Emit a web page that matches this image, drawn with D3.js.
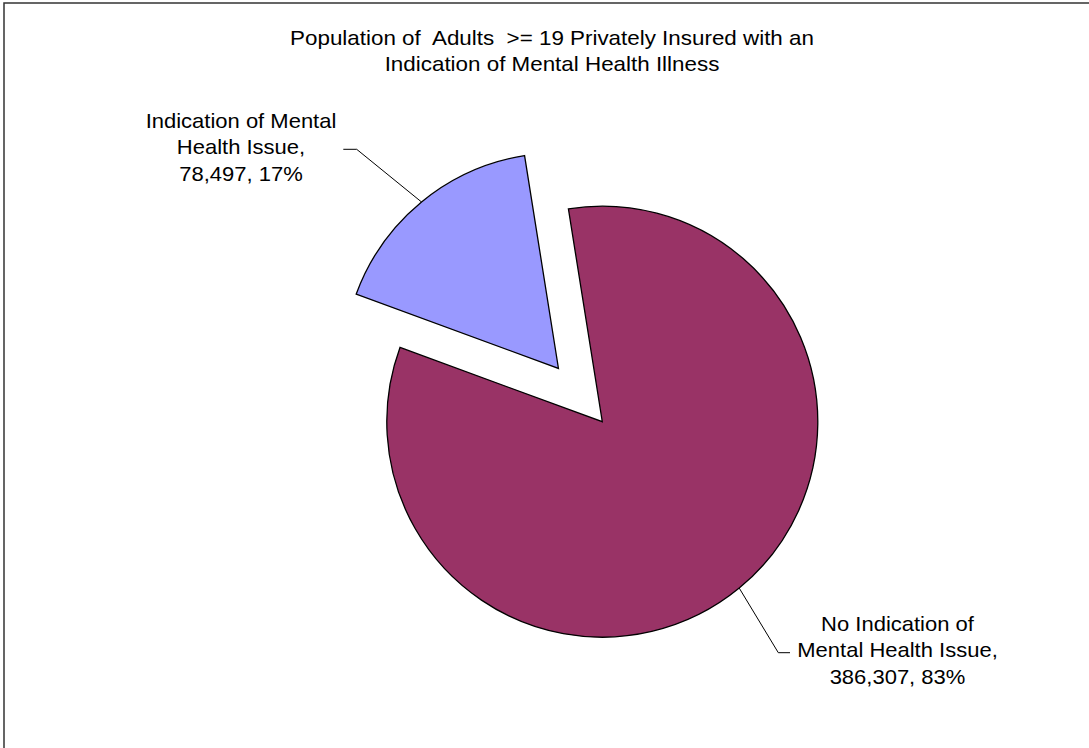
<!DOCTYPE html>
<html>
<head>
<meta charset="utf-8">
<script src="https://cdn.jsdelivr.net/npm/d3@7"></script>
<style>
  html, body { margin: 0; padding: 0; background: #fff; }
  svg { display: block; }
  text { font-family: "Liberation Sans", Arial, sans-serif; fill: #000; white-space: pre; }
</style>
</head>
<body>
<svg id="chart" width="1089" height="748"></svg>
<script>
// ---- data ----
const titleLines = ["Population of  Adults  >= 19 Privately Insured with an", "Indication of Mental Health Illness"];
const categories = ["No Indication of Mental Health Issue", "Indication of Mental Health Issue"];
const values = [386307, 78497];
const colors = ["#993366", "#9999FF"];
const labelLines = [
  ["No Indication of", "Mental Health Issue,"],
  ["Indication of Mental", "Health Issue,"]
];
const exploded = [false, true];

// ---- layout ----
const W = 1089, H = 748;
const cx = 602.3, cy = 421.7, R = 215.5;
const explodeDist = 69;
const startDeg = -9.05;
const fontSize = 20;
const lineH = 26.5;
const textScaleX = 1.1;

const svg = d3.select("#chart");

// border
svg.append("rect")
  .attr("x", 4).attr("y", 3).attr("width", W + 10).attr("height", H + 10)
  .attr("fill", "none").attr("stroke", "#333").attr("stroke-width", 1.5);

// title
const title = svg.append("text").attr("text-anchor", "middle").style("font-size", fontSize + "px")
  .attr("xml:space", "preserve")
  .attr("transform", `translate(552,45) scale(${textScaleX + 0.02},1)`);
titleLines.forEach((t, i) => {
  title.append("tspan").attr("x", 0).attr("y", i * lineH).text(t);
});

const total = d3.sum(values);
const fmtV = d3.format(",");
const fmtP = d3.format(".0%");

const s0 = startDeg * Math.PI / 180;
const pie = d3.pie().sort(null).startAngle(s0).endAngle(s0 + 2 * Math.PI);
const arcs = pie(values);
const arc = d3.arc().innerRadius(0).outerRadius(R);

const g = svg.append("g").attr("transform", `translate(${cx},${cy})`);

arcs.forEach((a, i) => {
  const mid = (a.startAngle + a.endAngle) / 2;
  const off = exploded[i] ? explodeDist : 0;
  const ox = Math.sin(mid) * off, oy = -Math.cos(mid) * off;
  g.append("path")
    .attr("d", arc(a))
    .attr("transform", `translate(${ox},${oy})`)
    .attr("fill", colors[i])
    .attr("stroke", "#000")
    .attr("stroke-width", 1.3)
    .attr("stroke-linejoin", "miter");
});

// labels with leader lines
const labelPos = [
  { x: 897.5, y: 631, elbow: [778.3, 652.7], end: [790, 652.7] },
  { x: 241, y: 128, elbow: [356.7, 149.3], end: [343.3, 149.3] }
];

arcs.forEach((a, i) => {
  const mid = (a.startAngle + a.endAngle) / 2;
  const off = exploded[i] ? explodeDist : 0;
  const px = cx + Math.sin(mid) * (off + R);
  const py = cy - Math.cos(mid) * (off + R);
  const lp = labelPos[i];
  svg.append("polyline")
    .attr("points", [[px, py], lp.elbow, lp.end].map(p => p.join(",")).join(" "))
    .attr("fill", "none").attr("stroke", "#000").attr("stroke-width", 1);

  const lines = labelLines[i].concat([fmtV(values[i]) + ", " + fmtP(values[i] / total)]);
  const t = svg.append("text").attr("text-anchor", "middle").style("font-size", fontSize + "px")
    .attr("transform", `translate(${lp.x},${lp.y}) scale(${textScaleX},1)`);
  lines.forEach((ln, j) => {
    t.append("tspan").attr("x", 0).attr("y", j * lineH).text(ln);
  });
});
</script>
</body>
</html>
